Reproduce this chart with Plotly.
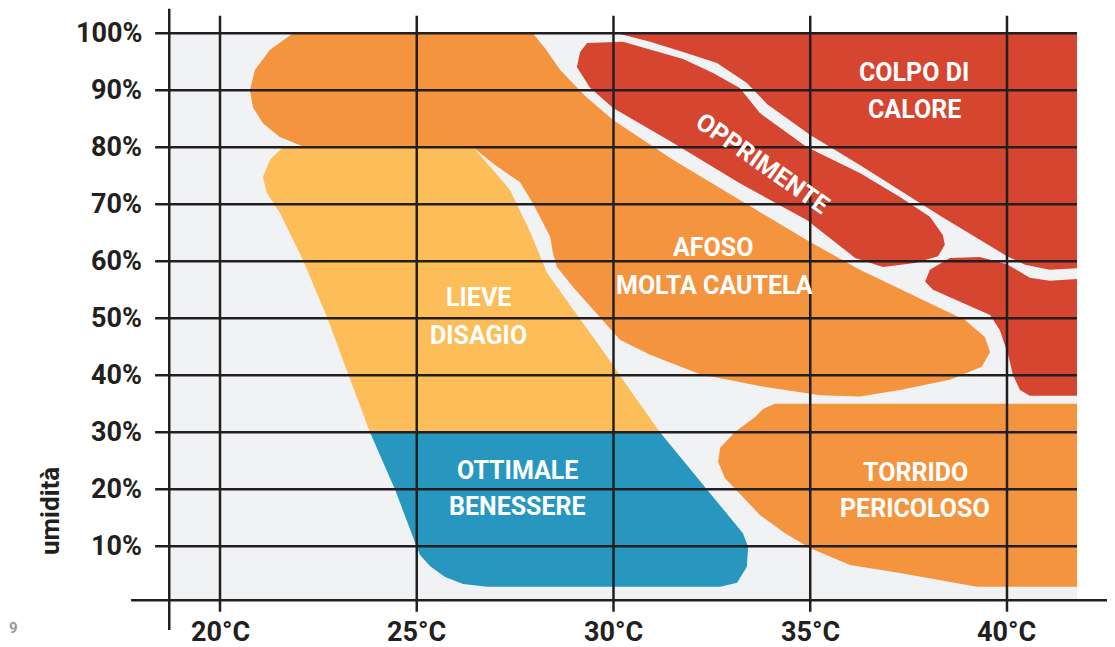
import plotly.graph_objects as go

# ---------------- axis ticks ----------------
temp_ticks = [20, 25, 30, 35, 40]
temp_labels = ["20°C", "25°C", "30°C", "35°C", "40°C"]
hum_ticks = [10, 20, 30, 40, 50, 60, 70, 80, 90, 100]
hum_labels = ["10%", "20%", "30%", "40%", "50%", "60%", "70%", "80%", "90%", "100%"]

# ---------------- comfort regions (temperature °C, humidity %) ----------------
afoso_t = [21.86, 27.95, 28.26, 28.64, 29.28, 29.99, 31.51, 33.21, 34.92, 36.26, 38.04, 38.93,
           39.44, 39.57, 39.36, 38.55, 37.28, 36.26, 35.25, 33.72, 32.20, 30.93, 30.17,
           29.66, 28.97, 28.56, 28.46, 28.39, 27.95, 27.62, 26.99, 26.43, 22.16, 21.52,
           21.09, 20.84, 20.76, 20.89, 21.27]
afoso_h = [100, 100, 97.4, 93.6, 89.0, 84.8, 77.8, 70.8, 63.7, 58.5, 52.7, 49.7,
           46.7, 44.1, 41.5, 39.2, 37.4, 36.3, 36.5, 38.1, 40.2, 43.6, 46.2,
           50.2, 55.5, 59.0, 61.5, 64.3, 70.2, 73.9, 76.9, 80, 80, 81.8,
           84.2, 87.0, 90.0, 93.6, 97.1]

lieve_t = [21.60, 26.43, 26.94, 27.37, 27.88, 28.31, 29.02, 29.66, 30.42, 31.18,
           23.81, 23.25, 22.72, 22.11, 21.52, 21.19, 21.09, 21.27]
lieve_h = [80, 80, 76.0, 72.5, 65.2, 58.0, 51.1, 45.0, 37.4, 30,
           30, 40.4, 50.2, 60.2, 68.5, 72.0, 74.8, 77.8]

ottimale_t = [23.81, 31.18, 32.38, 33.29, 33.42, 33.39, 33.14, 32.71, 26.79, 26.18,
              25.72, 25.34, 25.08, 24.96, 24.45]
ottimale_h = [30, 30, 19.9, 12.3, 9.9, 6.4, 3.6, 2.9, 2.9, 3.4,
              4.6, 6.5, 8.5, 10.6, 19.9]

torrido_t = [34.10, 41.78, 41.78, 39.24, 37.28, 36.01, 34.99, 34.36, 33.72, 33.27,
             32.83, 32.66, 32.71, 33.09, 33.60, 33.80]
torrido_h = [35.0, 35.0, 2.9, 2.9, 5.3, 6.7, 9.7, 12.3, 15.5, 18.7,
             22.0, 24.8, 27.3, 30.1, 32.7, 34.1]

opprimente_t = [29.33, 30.24, 31.77, 32.53, 33.21, 33.72, 34.92, 36.26, 37.28, 38.04,
                38.37, 38.42, 38.25, 37.66, 36.85, 36.14, 34.92, 33.21, 31.51, 29.99,
                29.40, 29.07, 29.15]
opprimente_h = [98.3, 98.5, 95.5, 93.05, 90.4, 86.0, 80.0, 75.5, 71.3, 67.8,
                64.6, 62.9, 60.9, 59.7, 59.0, 60.6, 67.2, 73.7, 80.8, 86.9,
                90.5, 94.1, 96.7]

colpo_t = [30.09, 41.78, 41.78, 41.09, 40.46, 40.0, 38.30, 36.85, 36.26, 34.99,
           33.90, 33.39, 32.63, 31.77, 30.93]
colpo_h = [100, 100, 58.8, 58.5, 59.4, 60.9, 68.0, 74.3, 76.9, 82.2,
           87.6, 91.3, 94.8, 96.7, 98.5]

colpo2_t = [38.55, 39.31, 40.0, 40.58, 41.09, 41.78, 41.78, 40.58, 40.33, 40.15,
            40.03, 39.82, 39.57, 38.12, 37.92, 38.04]
colpo2_h = [60.6, 60.75, 59.5, 57.1, 56.6, 56.9, 36.4, 36.4, 37.4, 40.1,
            43.6, 47.9, 50.6, 55.0, 56.4, 58.5]

# ---------------- colours ----------------
C_BG = "#F1F2F4"
C_ORANGE = "#F4943F"
C_LIGHT = "#FDBD59"
C_BLUE = "#2797C0"
C_RED = "#D54530"
C_LINE = "#231F20"

# ---------------- frame extents (data units) ----------------
X_RANGE = [14.612, 42.745]
Y_RANGE = [-7.67, 104.44]
YAXIS_X = 18.71
XAXIS_Y = 0.53
GRID_LEFT = 18.35
GRID_RIGHT = 41.78
VLINE_BOTTOM = -1.5
VLINE_TOP = 103.1

fig = go.Figure()

regions = [
    (afoso_t, afoso_h, C_ORANGE),
    (lieve_t, lieve_h, C_LIGHT),
    (ottimale_t, ottimale_h, C_BLUE),
    (torrido_t, torrido_h, C_ORANGE),
    (opprimente_t, opprimente_h, C_RED),
    (colpo_t, colpo_h, C_RED),
    (colpo2_t, colpo2_h, C_RED),
]
for t, h, c in regions:
    fig.add_trace(go.Scatter(x=t + [t[0]], y=h + [h[0]], mode="lines", fill="toself",
                             fillcolor=c, line=dict(width=0, color=c),
                             hoverinfo="skip", showlegend=False))

# grid lines drawn on top of regions
gx, gy = [], []
for h in hum_ticks:
    gx += [GRID_LEFT, GRID_RIGHT, None]
    gy += [h, h, None]
for t in temp_ticks:
    gx += [t, t, None]
    gy += [VLINE_BOTTOM, VLINE_TOP, None]
fig.add_trace(go.Scatter(x=gx, y=gy, mode="lines", line=dict(color=C_LINE, width=2.5),
                         hoverinfo="skip", showlegend=False))

# axis lines
fig.add_trace(go.Scatter(x=[YAXIS_X, YAXIS_X, None, 17.74, 42.62],
                         y=[-4.7, 104.3, None, XAXIS_Y, XAXIS_Y],
                         mode="lines", line=dict(color=C_LINE, width=2.5),
                         hoverinfo="skip", showlegend=False))

# background panel
fig.add_shape(type="rect", xref="x", yref="y", x0=YAXIS_X, x1=GRID_RIGHT,
              y0=XAXIS_Y, y1=100, fillcolor=C_BG, line=dict(width=0), layer="below")

FONT = "Roboto, Liberation Sans, Arial, sans-serif"
tick_font = dict(family=FONT, size=27, color=C_LINE, weight=700)

for t, lab in zip(temp_ticks, temp_labels):
    fig.add_annotation(x=t, y=-4.95, text=lab, showarrow=False, xanchor="center",
                       yanchor="middle", font=tick_font)
for h, lab in zip(hum_ticks, hum_labels):
    fig.add_annotation(x=18.07, y=h, text=lab, showarrow=False, xanchor="right",
                       yanchor="middle", font=tick_font)

fig.add_annotation(x=15.68, y=16.2, text="umidità", textangle=-90, showarrow=False,
                   xanchor="center", yanchor="middle",
                   font=dict(family=FONT, size=26, color=C_LINE, weight=700))
fig.add_annotation(x=14.76, y=-4.4, text="9", showarrow=False, xanchor="center",
                   yanchor="middle", font=dict(family=FONT, size=15, color="#9A9A9A", weight=700))

label_font = dict(family=FONT, size=25, color="white", weight=700)
region_labels = [
    ("COLPO DI", 37.64, 93.05, 0),
    ("CALORE", 37.64, 86.7, 0),
    ("AFOSO", 32.53, 62.5, 0),
    ("MOLTA CAUTELA", 32.56, 55.8, 0),
    ("LIEVE", 26.57, 53.6, 0),
    ("DISAGIO", 26.57, 46.9, 0),
    ("OTTIMALE", 27.56, 23.3, 0),
    ("BENESSERE", 27.56, 16.9, 0),
    ("TORRIDO", 37.67, 22.9, 0),
    ("PERICOLOSO", 37.67, 16.6, 0),
    ("OPPRIMENTE", 33.80, 77.2, 35),
]
for txt, x, y, ang in region_labels:
    fig.add_annotation(x=x, y=y, text=txt, showarrow=False, xanchor="center",
                       yanchor="middle", textangle=ang, font=label_font)

fig.update_layout(
    width=1107, height=639, autosize=False,
    margin=dict(l=0, r=0, t=0, b=0, pad=0),
    paper_bgcolor="white", plot_bgcolor="white",
    xaxis=dict(range=X_RANGE, visible=False, fixedrange=True),
    yaxis=dict(range=Y_RANGE, visible=False, fixedrange=True),
    showlegend=False,
)

fig.write_html("out.html")
